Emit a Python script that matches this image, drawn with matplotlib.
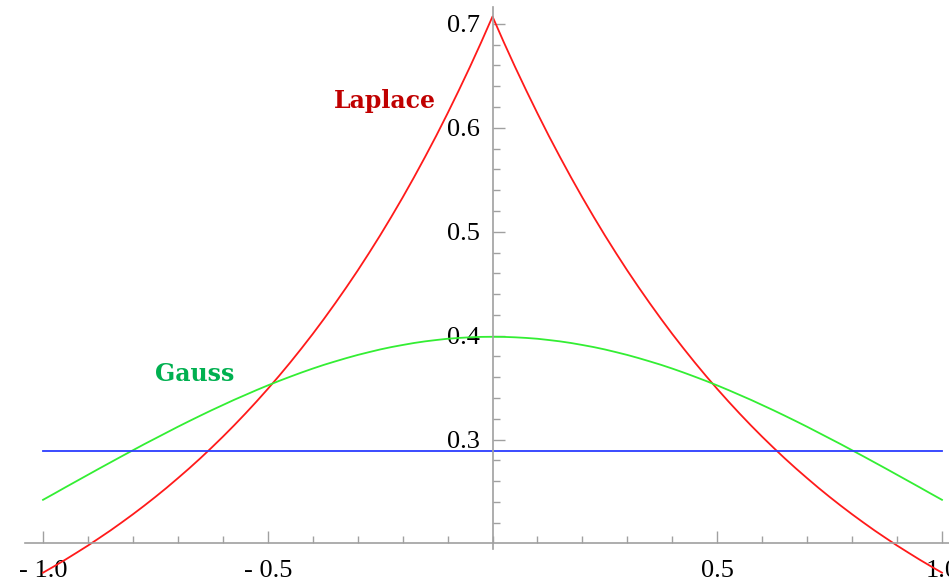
import matplotlib.pyplot as plt
from matplotlib.ticker import FixedLocator, MultipleLocator

# densities sampled every 0.025 on [0, 1]; both curves are even in x
x_half = [0.000, 0.025, 0.050, 0.075, 0.100, 0.125, 0.150, 0.175, 0.200, 0.225,
          0.250, 0.275, 0.300, 0.325, 0.350, 0.375, 0.400, 0.425, 0.450, 0.475,
          0.500, 0.525, 0.550, 0.575, 0.600, 0.625, 0.650, 0.675, 0.700, 0.725,
          0.750, 0.775, 0.800, 0.825, 0.850, 0.875, 0.900, 0.925, 0.950, 0.975, 1.000]
laplace_half = [0.7071, 0.6825, 0.6588, 0.6360, 0.6139, 0.5925, 0.5720, 0.5521, 0.5329, 0.5144,
                0.4965, 0.4793, 0.4626, 0.4466, 0.4311, 0.4161, 0.4016, 0.3877, 0.3742, 0.3612,
                0.3487, 0.3366, 0.3249, 0.3136, 0.3027, 0.2922, 0.2820, 0.2722, 0.2628, 0.2536,
                0.2448, 0.2363, 0.2281, 0.2202, 0.2125, 0.2052, 0.1980, 0.1912, 0.1845, 0.1781, 0.1719]
gauss_half = [0.3989, 0.3988, 0.3984, 0.3978, 0.3970, 0.3958, 0.3945, 0.3929, 0.3910, 0.3890,
              0.3867, 0.3841, 0.3814, 0.3784, 0.3752, 0.3719, 0.3683, 0.3645, 0.3605, 0.3564,
              0.3521, 0.3476, 0.3429, 0.3382, 0.3332, 0.3282, 0.3230, 0.3177, 0.3123, 0.3067,
              0.3011, 0.2955, 0.2897, 0.2839, 0.2780, 0.2721, 0.2661, 0.2601, 0.2541, 0.2480, 0.2420]
uniform_x = [-1.0, 1.0]
uniform = [0.2887, 0.2887]

x_ticks = [-1.0, -0.5, 0.5, 1.0]
x_labels = ["- 1.0", "- 0.5", "0.5", "1.0"]
y_ticks = [0.3, 0.4, 0.5, 0.6, 0.7]
y_labels = ["0.3", "0.4", "0.5", "0.6", "0.7"]
y_minor = [0.22, 0.24, 0.26, 0.28, 0.32, 0.34, 0.36, 0.38, 0.42, 0.44, 0.46, 0.48,
           0.52, 0.54, 0.56, 0.58, 0.62, 0.64, 0.66, 0.68]

# mirror the half samples onto [-1, 0]
x_vals = [-v for v in x_half[::-1]] + x_half[1:]
laplace = laplace_half[::-1] + laplace_half[1:]
gauss = gauss_half[::-1] + gauss_half[1:]

AXIS_GRAY = "#a0a0a0"
SERIF = "Liberation Serif"

fig = plt.figure(figsize=(9.49, 5.84), dpi=100)
ax = fig.add_axes([0, 0, 1, 1])

ax.plot(x_vals, laplace, color="#ff1a1a", linewidth=1.3, clip_on=False)
ax.plot(x_vals, gauss, color="#33ee33", linewidth=1.3)
ax.plot(uniform_x, uniform, color="#2b3dff", linewidth=1.3)

ax.set_xlim(-1.0957, 1.0156)
ax.set_ylim(0.161, 0.723)

# axes cross at (0, 0.2)
for side in ("top", "right"):
    ax.spines[side].set_visible(False)
ax.spines["left"].set_position(("data", 0.0))
ax.spines["bottom"].set_position(("data", 0.2))
ax.spines["left"].set_bounds(0.195, 0.716)
ax.spines["bottom"].set_bounds(-1.04, 1.0156)
for side in ("left", "bottom"):
    ax.spines[side].set_color(AXIS_GRAY)
    ax.spines[side].set_linewidth(1.2)

ax.xaxis.set_major_locator(FixedLocator(x_ticks))
ax.xaxis.set_minor_locator(MultipleLocator(0.1))
ax.set_xticklabels(x_labels)
ax.yaxis.set_major_locator(FixedLocator(y_ticks))
ax.yaxis.set_minor_locator(FixedLocator(y_minor))
ax.set_yticklabels(y_labels)

ax.tick_params(axis="both", which="both", direction="in", color=AXIS_GRAY, width=1.0)
ax.tick_params(axis="both", which="major", length=8.5)
ax.tick_params(axis="both", which="minor", length=5)
ax.tick_params(axis="x", which="major", pad=12)
ax.tick_params(axis="y", which="major", pad=9)
for lab in ax.get_xticklabels() + ax.get_yticklabels():
    lab.set_fontfamily(SERIF)
    lab.set_fontsize(19)

ax.text(-0.354, 0.619, "Laplace", color="#c00000", fontsize=17,
        fontweight="bold", family="DejaVu Serif", ha="left", va="baseline")
ax.text(-0.750, 0.356, "Gauss", color="#00b050", fontsize=17,
        fontweight="bold", family="DejaVu Serif", ha="left", va="baseline")

fig.savefig("out.png", dpi=100)
